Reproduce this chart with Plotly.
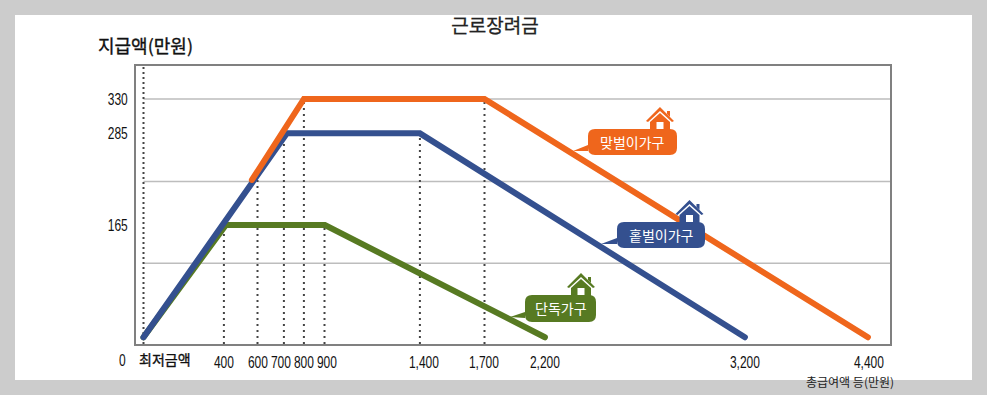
import plotly.graph_objects as go

W, H = 987, 395
L, T, R, B = 136, 66, 890, 344

# Schematic axis positions (the source axis is not to scale)
x_tick_pos = [402, 572, 687, 802, 917, 1402, 1702, 2007, 3007, 3627]
x_tick_labels = ["400", "600", "700", "800", "900", "1,400", "1,700", "2,200", "3,200", "4,400"]
y_tick_vals = [165, 285, 330]
y_tick_labels = ["165", "285", "330"]
grid_levels = [115, 222, 330]

single_x = [0, 412, 907, 2007]
single_y = [18, 165, 165, 18]
one_earner_x = [0, 717, 1382, 3007]
one_earner_y = [18, 285, 285, 18]
two_earner_x = [542, 802, 1705, 3622]
two_earner_y = [224, 330, 330, 18]

guide_x = [402, 570, 702, 802, 905, 1382, 1705]
guide_top = [165, 224, 285, 330, 165, 285, 330]

ORANGE, BLUE, GREEN = "#EF661C", "#34508F", "#577A22"
NUM = "Liberation Sans, sans-serif"
KR = "Noto Sans CJK KR, sans-serif"
X0, X1, Y0, Y1 = -37.5, 3732.5, 9.2, 373.2

fig = go.Figure()
for g in grid_levels:
    fig.add_trace(go.Scatter(x=[0, X1], y=[g, g], mode="lines", line=dict(color="#BDBDBD", width=1.5), hoverinfo="skip"))
fig.add_trace(go.Scatter(x=[0, 0], y=[Y0, Y1], mode="lines", line=dict(color="#444444", width=2, dash="2px 3px"), hoverinfo="skip"))
for gx, gt in zip(guide_x, guide_top):
    fig.add_trace(go.Scatter(x=[gx, gx], y=[Y0, gt], mode="lines", line=dict(color="#444444", width=2, dash="2px 4px"), hoverinfo="skip"))
for name, xs, ys, col, w in [("단독가구", single_x, single_y, GREEN, 6),
                             ("홑벌이가구", one_earner_x, one_earner_y, BLUE, 6),
                             ("맞벌이가구", two_earner_x, two_earner_y, ORANGE, 6)]:
    fig.add_trace(go.Scatter(x=xs, y=ys, name=name, mode="lines",
                             line=dict(color=col, width=w)))

# Paper coordinates are relative to the plot area
px = lambda v: (v - L) / (R - L)
py = lambda v: (B - v) / (B - T)
def P(points):
    return "M" + " L".join(f"{px(a):.5f},{py(b):.5f}" for a, b in points) + " Z"

shapes = [dict(type="rect", xref="paper", yref="paper", x0=px(15), x1=px(972), y0=py(380), y1=py(15),
               fillcolor="white", line_width=0, layer="below")]

def callout(x0, y0, x1, y1, tipx, tipy, col):
    r = 7
    seg = (f"M{px(x0+r):.5f},{py(y0):.5f} L{px(x1-r):.5f},{py(y0):.5f} "
           f"Q{px(x1):.5f},{py(y0):.5f} {px(x1):.5f},{py(y0+r):.5f} "
           f"L{px(x1):.5f},{py(y1-r):.5f} Q{px(x1):.5f},{py(y1):.5f} {px(x1-r):.5f},{py(y1):.5f} "
           f"L{px(x0+r):.5f},{py(y1):.5f} Q{px(x0):.5f},{py(y1):.5f} {px(x0):.5f},{py(y1-r):.5f} "
           f"L{px(x0):.5f},{py(y1-4):.5f} L{px(tipx):.5f},{py(tipy):.5f} L{px(x0):.5f},{py(y1-10):.5f} "
           f"L{px(x0):.5f},{py(y0+r):.5f} Q{px(x0):.5f},{py(y0):.5f} {px(x0+r):.5f},{py(y0):.5f} Z")
    return dict(type="path", xref="paper", yref="paper", path=seg, fillcolor=col, line_width=0)

def house(ax, ay, col):
    out = []
    roof = [(ax, ay), (ax+14, ay+14), (ax+12, ay+15), (ax, ay+4), (ax-12, ay+15), (ax-14, ay+14)]
    out.append(dict(type="path", xref="paper", yref="paper", path=P(roof), fillcolor=col, line_width=0))
    body = [(ax, ay+6), (ax+10, ay+15), (ax+10, ay+24), (ax-10, ay+24), (ax-10, ay+15)]
    out.append(dict(type="path", xref="paper", yref="paper", path=P(body), fillcolor=col, line_width=0))
    chim = [(ax+7, ay+4), (ax+10, ay+4), (ax+10, ay+10), (ax+7, ay+7)]
    out.append(dict(type="path", xref="paper", yref="paper", path=P(chim), fillcolor=col, line_width=0))
    win = [(ax-3.5, ay+15), (ax+3.5, ay+15), (ax+3.5, ay+22), (ax-3.5, ay+22)]
    out.append(dict(type="path", xref="paper", yref="paper", path=P(win), fillcolor="white", line_width=0))
    return out

for cfg in [(588, 129, 677, 155, 573, 151, ORANGE, 660, 107),
            (617, 222, 705, 248, 601, 244, BLUE, 689.5, 200),
            (525, 295, 596, 322, 510, 317, GREEN, 581, 273)]:
    shapes.append(callout(*cfg[:7]))
    shapes.extend(house(cfg[7], cfg[8], cfg[6]))

def text(x, y, s, size, color="#111111", family=KR, anchor="center"):
    return dict(xref="paper", yref="paper", x=px(x), y=py(y), text=s, showarrow=False,
                xanchor=anchor, yanchor="middle", font=dict(size=size, color=color, family=family))

annotations = [
    text(145.5, 45, "지급액(만원)", 18),
    text(122, 360, "0", 16, family=NUM),
    text(165, 359, "최저금액", 14),
    text(850, 381, "총급여액 등(만원)", 12, color="#222222"),
    text(632.5, 142, "맞벌이가구", 14, color="white"),
    text(661, 235, "홑벌이가구", 14, color="white"),
    text(560.5, 308, "단독가구", 14, color="white"),
]

fig.update_layout(
    width=W, height=H, autosize=False, showlegend=False,
    margin=dict(l=L, r=W - R, t=T, b=H - B),
    paper_bgcolor="#CCCCCC", plot_bgcolor="white",
    title=dict(text="근로장려금", x=495 / W, y=1 - 26 / H, xanchor="center", yanchor="middle",
               font=dict(size=19, color="#222222", family=KR)),
    shapes=shapes, annotations=annotations,
    xaxis=dict(range=[X0, X1], tickvals=x_tick_pos, ticktext=x_tick_labels, showgrid=False, zeroline=False,
               showline=True, mirror=True, linecolor="#808080", linewidth=2, tickangle=0,
               ticks="outside", ticklen=3, tickcolor="rgba(0,0,0,0)",
               tickfont=dict(size=16, family=NUM, color="#111111")),
    yaxis=dict(range=[Y0, Y1], tickvals=y_tick_vals, ticktext=y_tick_labels, showgrid=False, zeroline=False,
               showline=True, mirror=True, linecolor="#808080", linewidth=2,
               ticks="outside", ticklen=3, tickcolor="rgba(0,0,0,0)",
               tickfont=dict(size=16, family=NUM, color="#111111")),
)

POST = """
document.body.style.margin='0';
document.documentElement.style.background='#CCCCCC';
function squeeze(t){
  var cx=parseFloat(t.getAttribute('x'))||0;
  var old=t.getAttribute('transform')||'';
  t.setAttribute('transform', old+' translate('+cx+',0) scale(0.75,1) translate('+(-cx)+',0)');
}
document.querySelectorAll('.xtick text, .ytick text').forEach(squeeze);
document.querySelectorAll('.annotation-text').forEach(function(t){
  var s=t.textContent;
  if(s==='0'){squeeze(t);}
  if(s==='지급액(만원)'||s==='최저금액'){t.style.stroke='#111111';t.style.strokeWidth='0.35px';}
});
document.querySelectorAll('.gtitle').forEach(function(t){t.style.stroke='#222222';t.style.strokeWidth='0.3px';});
var tr=document.querySelectorAll('.scatterlayer .trace');
for(var i=tr.length-3;i<tr.length;i++){
  tr[i].querySelectorAll('.js-line').forEach(function(p){p.style.strokeLinecap='round';});
}
"""
fig.write_html("out.html", config={"displayModeBar": False}, post_script=POST)
